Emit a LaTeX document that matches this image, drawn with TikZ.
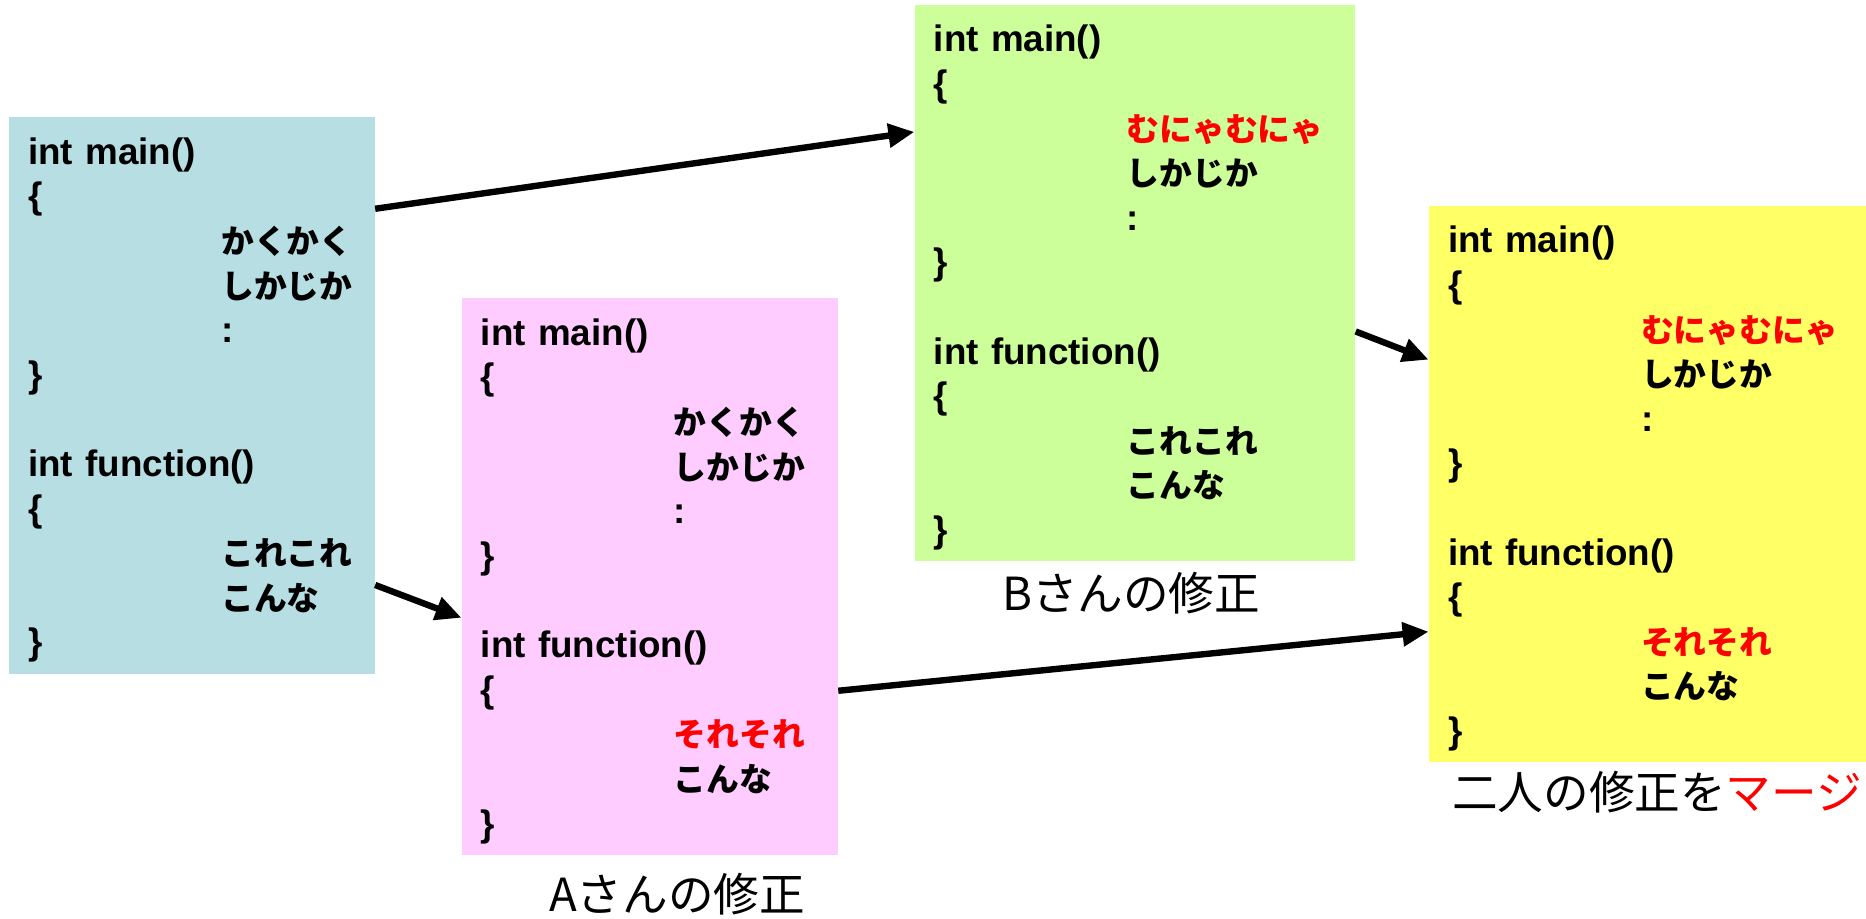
\documentclass[tikz,border=0pt]{standalone}
\usepackage{fontspec}
\setmainfont{Liberation Sans}
\newfontfamily\jp{Noto Sans CJK JP}
\usetikzlibrary{arrows.meta,calc,positioning}

\definecolor{orig}{RGB}{183,222,226}
\definecolor{edita}{RGB}{255,204,255}
\definecolor{editb}{RGB}{204,255,153}
\definecolor{merged}{RGB}{255,255,102}

\newcommand\ind{\hspace*{96.5pt}}
\newcommand\kana[1]{{\jp\bfseries\fontsize{16.4}{22.3}\selectfont #1}}
\newcommand\fix[1]{\textcolor{red}{#1}}
% first line a bit taller, so the listing sits lower in its box
\newcommand\firstline{\rule{0pt}{18pt}}

\tikzset{
  codebox/.style={align=left, minimum height=9.78cm, inner xsep=9.5pt,
    font=\fontsize{18.4}{22.3}\selectfont\bfseries},
  captext/.style={font=\jp\fontsize{22.8}{26}\selectfont},
  flow/.style={line width=3.2pt, -{Triangle[length=13pt,width=11.5pt]}}
}

\begin{document}
\begin{tikzpicture}
\useasboundingbox (0,0) rectangle (32.79,16.132);

% original source
\node[codebox, fill=orig, text width=5.755cm] (orig) at (3.374,9.182) {%
\firstline int main()\\
\{\\
\ind\kana{かくかく}\\
\ind\kana{しかじか}\\
\ind :\\
\}\\[22.3pt]
int function()\\
\{\\
\ind\kana{これこれ}\\
\ind\kana{こんな}\\
\}};

% A edits function()
\node[codebox, fill=edita, text width=5.939cm] (edita) at (11.42,6.001) {%
\firstline int main()\\
\{\\
\ind\kana{かくかく}\\
\ind\kana{しかじか}\\
\ind :\\
\}\\[22.3pt]
int function()\\
\{\\
\ind\kana{\fix{それそれ}}\\
\ind\kana{こんな}\\
\}};
\node[captext] (capa) at (11.897,0.422) {Aさんの修正};

% B edits main()
\node[codebox, fill=editb, text width=7.073cm] (editb) at (19.945,11.159) {%
\firstline int main()\\
\{\\
\ind\kana{\fix{むにゃむにゃ}}\\
\ind\kana{しかじか}\\
\ind :\\
\}\\[22.3pt]
int function()\\
\{\\
\ind\kana{これこれ}\\
\ind\kana{こんな}\\
\}};
\node[captext] (capb) at (19.875,5.711) {Bさんの修正};

% both edits together
\node[codebox, fill=merged, text width=7.011cm] (merged) at (28.95,7.627) {%
\firstline int main()\\
\{\\
\ind\kana{\fix{むにゃむにゃ}}\\
\ind\kana{しかじか}\\
\ind :\\
\}\\[22.3pt]
int function()\\
\{\\
\ind\kana{\fix{それそれ}}\\
\ind\kana{こんな}\\
\}};
\node[captext] (capm) at (29.118,2.214) {二人の修正を\fix{マージ}};

\draw[flow] ($(orig.north east)!0.165!(orig.south east)$) -- ($(editb.north west)!0.229!(editb.south west)$);
\draw[flow] ($(orig.north east)!0.840!(orig.south east)$) -- ($(edita.north west)!0.574!(edita.south west)$);
\draw[flow] ($(editb.north east)!0.587!(editb.south east)$) -- ($(merged.north west)!0.277!(merged.south west)$);
\draw[flow] ($(edita.north east)!0.705!(edita.south east)$) -- ($(merged.north west)!0.765!(merged.south west)$);
\end{tikzpicture}
\end{document}
